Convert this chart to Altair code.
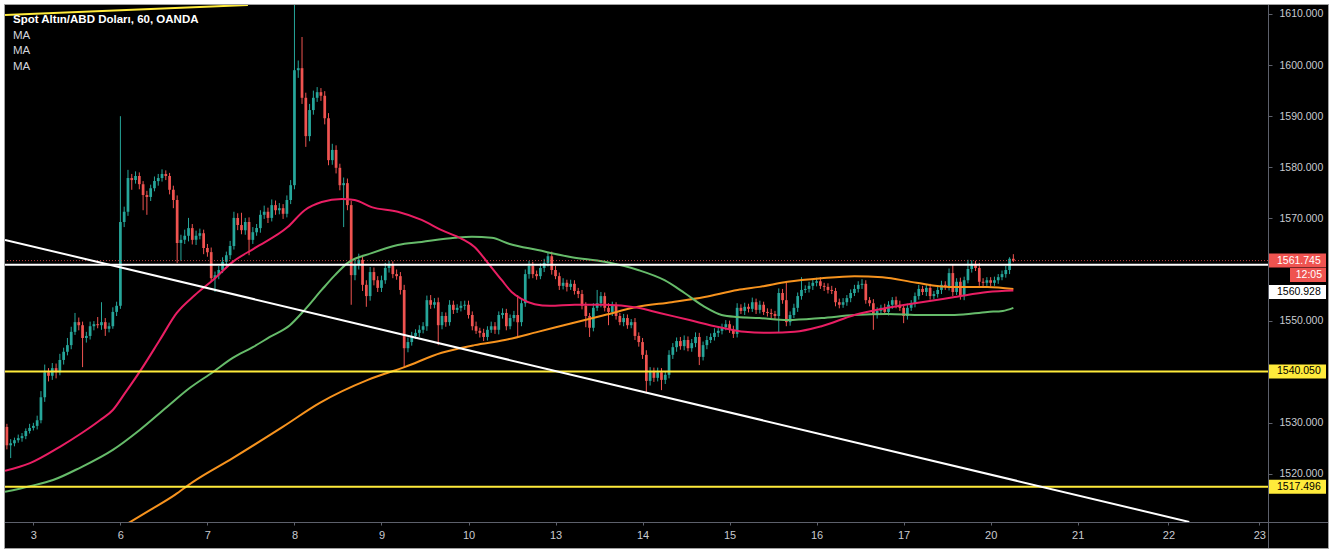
import altair as alt
import pandas as pd

# ---------------- data ----------------
FIRST_BAR = -7            # bar index of the first visible hourly candle (bar 0 = first bar of the 3rd)
first_open = 1529.2

closes = [
    # 2nd (last hours)
    1525.6, 1526.0, 1526.6, 1527.0, 1527.4, 1528.4, 1529.0,
    # 3
    1529.4, 1530.5, 1535.0, 1539.9, 1539.2, 1540.7, 1539.9, 1542.3, 1543.9, 1545.2, 1547.8, 1549.7,
    1549.1, 1546.6, 1547.0, 1548.9, 1549.3, 1549.1, 1549.7, 1548.4, 1548.9, 1551.7, 1552.9,
    # 6
    1569.3, 1571.3, 1577.9, 1577.5, 1578.3, 1576.7, 1574.6, 1574.2, 1575.9, 1577.3, 1577.9, 1578.7,
    1578.3, 1575.6, 1573.6, 1565.2, 1565.8, 1566.6, 1568.1, 1565.8, 1566.6, 1567.1, 1564.2,
    # 7
    1563.4, 1558.3, 1558.9, 1559.9, 1561.5, 1562.8, 1564.6, 1570.1, 1568.7, 1567.7, 1569.3, 1565.8,
    1567.3, 1568.1, 1570.7, 1571.3, 1570.1, 1572.6, 1571.6, 1572.0, 1570.9, 1573.6, 1576.5,
    # 8
    1599.0, 1599.4, 1593.6, 1586.1, 1591.2, 1593.6, 1594.7, 1594.0, 1589.6, 1581.4, 1583.4, 1579.9,
    1576.5, 1576.9, 1572.6, 1558.9, 1560.9, 1561.9, 1557.0, 1554.8, 1559.5, 1557.9, 1556.4,
    # 9
    1557.9, 1560.3, 1560.9, 1559.1, 1558.7, 1556.0, 1544.6, 1545.8, 1547.0, 1547.6, 1548.2, 1548.9,
    1554.0, 1553.1, 1553.6, 1549.1, 1550.9, 1549.7, 1553.1, 1552.1, 1552.5, 1552.9, 1553.1,
    # 10
    1551.1, 1548.9, 1548.0, 1547.6, 1546.8, 1548.2, 1548.9, 1548.2, 1551.1, 1551.5, 1548.9, 1550.5,
    1551.1, 1549.7, 1553.4, 1559.1, 1560.7, 1559.1, 1558.7, 1560.3, 1561.3, 1562.6, 1559.9,
    # 13
    1558.7, 1556.8, 1557.4, 1556.6, 1557.2, 1555.8, 1555.2, 1552.9, 1550.9, 1548.6, 1552.5, 1553.4,
    1554.8, 1552.5, 1551.7, 1552.9, 1550.9, 1549.7, 1550.5, 1549.1, 1549.7, 1547.0, 1545.8,
    # 14
    1543.3, 1538.2, 1540.1, 1538.8, 1539.9, 1538.4, 1539.4, 1543.3, 1544.8, 1546.0, 1545.0, 1546.2,
    1544.6, 1545.6, 1546.8, 1542.9, 1545.2, 1546.2, 1546.8, 1547.6, 1548.0, 1548.7, 1549.3,
    # 15
    1548.2, 1547.4, 1552.5, 1551.9, 1552.7, 1552.3, 1553.6, 1552.1, 1553.1, 1551.7, 1551.5, 1551.3,
    1550.9, 1555.4, 1554.0, 1549.7, 1551.1, 1552.5, 1554.8, 1556.0, 1556.2, 1556.8, 1557.4,
    # 16
    1557.7, 1556.8, 1556.6, 1556.0, 1555.8, 1553.6, 1553.1, 1553.6, 1554.4, 1555.4, 1556.2, 1557.0,
    1557.2, 1554.0, 1553.4, 1551.1, 1551.9, 1552.5, 1551.7, 1553.1, 1554.0, 1553.1, 1552.5,
    # 17
    1550.9, 1552.5, 1553.4, 1554.8, 1556.2, 1555.6, 1556.4, 1554.8, 1555.2, 1556.0, 1557.0, 1556.6,
    1559.3, 1555.6, 1557.6, 1554.8, 1557.9, 1560.1, 1561.1, 1560.3, 1557.6, 1557.4, 1557.9,
    # 20
    1557.4, 1557.9, 1558.5, 1559.1, 1559.9, 1562.1, 1561.745,
]

upper_wicks = [
    0.6, 0.8, 0.5, 0.7, 0.6, 0.5, 0.8,
    0.6, 0.9, 1.2, 1.5, 0.8, 1.0, 0.9, 1.2, 0.8, 1.4, 1.0, 1.8, 0.9, 0.7, 0.8, 0.9, 0.6, 1.4, 3.9, 0.8, 0.7, 0.9, 0.8,
    20.7, 1.0, 1.6, 0.8, 0.9, 0.7, 0.6, 0.8, 0.7, 0.9, 0.8, 0.9, 0.7, 0.6, 0.8, 0.9, 1.0, 1.2, 2.0, 0.8, 1.0, 0.9, 0.7,
    0.8, 0.9, 0.7, 0.8, 0.9, 0.7, 1.0, 1.2, 0.9, 2.4, 0.8, 0.9, 1.0, 0.8, 0.9, 1.2, 0.8, 1.1, 0.9, 1.0, 0.8, 0.9, 1.0,
    12.8, 1.5, 6.1, 1.0, 1.2, 1.4, 1.0, 0.8, 0.9, 1.0, 1.2, 0.9, 0.8, 1.1, 0.9, 0.8, 1.0, 1.2, 0.8, 0.9, 1.0, 0.9, 0.8,
    0.9, 1.0, 0.8, 0.7, 0.9, 0.8, 1.0, 0.9, 0.8, 0.7, 0.9, 0.8, 0.9, 1.0, 0.8, 0.9, 0.8, 0.7, 0.9, 0.8, 0.7, 0.9, 0.8,
    0.8, 0.7, 0.9, 0.6, 0.8, 0.7, 0.9, 0.8, 0.7, 0.9, 0.8, 0.7, 0.8, 3.9, 0.8, 0.9, 1.0, 0.8, 0.7, 0.9, 0.8, 0.8, 0.9,
    0.8, 0.7, 0.9, 0.6, 0.8, 0.7, 0.6, 0.8, 0.7, 0.6, 0.9, 2.6, 0.8, 0.7, 0.9, 0.8, 0.7, 0.6, 0.8, 0.7, 0.6, 0.8, 0.7,
    0.8, 0.9, 0.8, 0.7, 0.9, 0.8, 0.7, 0.9, 0.8, 0.7, 0.8, 0.9, 0.7, 0.8, 0.9, 0.8, 0.7, 0.8, 0.7, 0.9, 0.8, 0.7, 0.8,
    0.7, 0.8, 0.9, 0.7, 0.8, 0.6, 0.9, 0.7, 0.8, 0.6, 0.7, 0.8, 0.6, 0.9, 0.8, 3.4, 0.7, 0.8, 0.7, 2.5, 0.7, 0.8, 0.6,
    0.7, 0.8, 0.6, 0.7, 0.8, 0.6, 0.7, 0.8, 0.6, 0.7, 0.8, 0.7, 0.9, 0.7, 0.6, 0.8, 0.7, 0.6, 0.8, 0.7, 0.6, 0.7, 0.8,
    0.7, 0.8, 0.6, 0.7, 0.8, 0.6, 0.7, 0.8, 0.6, 0.7, 0.8, 0.7, 0.9, 1.6, 0.7, 0.8, 0.7, 1.8, 0.7, 0.6, 1.0, 0.7, 0.6,
    0.6, 0.7, 0.6, 0.7, 0.8, 0.3, 0.9,
]

lower_wicks = [
    0.8, 2.5, 0.6, 0.5, 0.7, 0.6, 0.5,
    0.5, 0.7, 0.6, 0.9, 1.1, 0.8, 1.2, 0.6, 0.9, 0.7, 0.8, 0.6, 1.0, 5.7, 0.9, 0.7, 0.8, 0.6, 0.9, 1.4, 0.7, 0.5, 0.8,
    0.6, 1.0, 0.8, 1.9, 0.7, 1.0, 3.0, 3.5, 0.8, 0.6, 0.9, 0.7, 0.8, 0.9, 1.6, 3.9, 3.5, 0.8, 1.1, 0.9, 1.0, 0.7, 1.2,
    0.9, 0.7, 2.7, 0.8, 0.6, 0.9, 0.8, 0.7, 1.0, 0.8, 0.9, 3.0, 0.8, 0.7, 0.9, 0.8, 1.0, 0.7, 0.9, 0.8, 1.0, 0.7, 0.8,
    0.8, 1.5, 1.2, 2.1, 1.0, 0.9, 0.8, 1.0, 1.2, 1.0, 0.9, 1.1, 1.0, 8.2, 1.0, 5.8, 1.0, 0.9, 1.2, 2.1, 0.9, 1.0, 0.8,
    0.8, 0.7, 0.9, 0.8, 0.7, 0.9, 3.7, 0.8, 0.7, 0.6, 0.8, 0.7, 0.9, 0.8, 0.7, 3.9, 0.8, 0.9, 0.7, 0.8, 0.6, 0.7, 0.8,
    0.7, 0.8, 0.6, 0.9, 0.8, 0.7, 0.6, 0.8, 0.9, 0.7, 0.8, 0.6, 0.7, 2.9, 0.8, 0.7, 0.9, 0.8, 0.7, 0.6, 0.8, 0.7, 0.9,
    0.6, 0.8, 0.7, 0.9, 0.6, 0.7, 0.8, 0.7, 2.2, 1.8, 0.7, 0.6, 0.8, 0.7, 2.6, 0.8, 0.7, 0.6, 0.8, 0.7, 0.6, 0.8, 0.9,
    0.8, 2.2, 0.9, 0.8, 0.7, 2.0, 0.8, 0.7, 0.8, 0.9, 0.7, 0.8, 0.6, 0.7, 0.8, 1.6, 0.7, 0.8, 0.6, 0.7, 0.8, 0.7, 0.6,
    0.6, 0.8, 0.7, 0.6, 0.8, 0.7, 0.6, 0.8, 0.7, 0.6, 0.7, 0.8, 0.6, 3.3, 0.7, 0.8, 0.7, 0.6, 0.8, 0.7, 0.6, 0.7, 0.8,
    0.7, 0.6, 0.8, 0.7, 0.6, 0.8, 0.7, 0.6, 0.7, 0.8, 0.6, 0.7, 0.8, 0.7, 0.6, 2.9, 0.7, 0.8, 0.6, 0.7, 0.8, 0.7, 0.6,
    1.4, 0.7, 0.6, 0.8, 0.7, 0.6, 0.8, 0.7, 0.6, 0.7, 0.8, 0.6, 0.7, 0.8, 0.6, 0.7, 0.8, 0.6, 0.7, 0.6, 0.8, 0.7, 0.6,
    0.7, 0.6, 0.7, 0.6, 0.7, 0.8, 0.3,
]

# moving averages, sampled along the curves (bar index, price)
ma_fast_i = [-7.5, -0.9, 7.0, 12.8, 17.6, 21.0, 24.2, 28.9, 33.4, 37.9, 42.7, 47.4, 52.7, 58.5, 67.2, 71.7,
             76.2, 81.5, 84.9, 89.4, 96.3, 102.6, 107.9, 113.2, 116.6, 120.1, 123.8, 126.4, 129.1, 132.5,
             136.5, 143.1, 151.0, 159.8, 165.5, 173.4, 181.4, 188.0, 194.6, 201.2, 208.3, 217.0, 225.7,
             234.7, 243.5, 252.2, 259.0]
ma_fast_p = [1520.6, 1522.1, 1525.3, 1528.0, 1530.5, 1532.5, 1535.8, 1540.9, 1546.2, 1551.5, 1555.0, 1557.9,
             1561.5, 1564.2, 1568.3, 1571.6, 1573.2, 1573.8, 1573.6, 1572.2, 1571.3, 1569.7, 1567.7, 1566.0,
             1564.4, 1561.3, 1557.9, 1555.6, 1554.2, 1553.2, 1552.9, 1553.1, 1553.1, 1552.5, 1551.5, 1550.1,
             1548.7, 1547.8, 1547.6, 1547.8, 1548.9, 1551.1, 1552.5, 1553.6, 1554.6, 1555.6, 1555.9]
ma_mid_i = [-7.5, -0.9, 5.2, 12.3, 21.0, 28.1, 35.3, 41.3, 47.4, 52.7, 58.0, 62.5, 67.8, 71.7, 76.2, 79.7,
            83.1, 89.4, 96.3, 102.6, 111.4, 115.9, 121.1, 125.9, 133.3, 142.3, 151.0, 159.8, 166.8, 172.1,
            177.4, 181.9, 186.1, 191.9, 199.3, 208.3, 217.0, 225.7, 234.7, 243.5, 252.2, 256.2, 259.0]
ma_mid_p = [1516.5, 1517.6, 1518.8, 1521.2, 1524.7, 1528.6, 1533.1, 1536.8, 1539.9, 1542.7, 1544.8, 1546.8,
            1549.1, 1552.1, 1556.0, 1558.9, 1561.3, 1563.2, 1564.8, 1565.4, 1566.2, 1566.4, 1566.2, 1565.0,
            1563.8, 1562.4, 1561.5, 1559.9, 1557.9, 1555.4, 1552.7, 1551.1, 1550.7, 1550.5, 1550.1, 1550.5,
            1551.1, 1551.3, 1551.1, 1551.1, 1551.7, 1551.9, 1552.5]
ma_slow_i = [22.9, 30.8, 37.4, 42.1, 52.7, 65.9, 75.7, 88.4, 98.1, 107.9, 116.6, 124.6, 133.3, 142.3, 151.0,
             159.8, 168.7, 177.4, 186.1, 191.9, 199.3, 208.3, 217.0, 224.4, 233.4, 242.1, 252.2, 259.0]
ma_slow_p = [1509.4, 1512.9, 1515.9, 1518.4, 1523.1, 1529.2, 1533.9, 1538.4, 1540.9, 1543.7, 1545.2, 1546.2,
             1547.8, 1549.5, 1551.1, 1552.7, 1553.6, 1554.6, 1556.0, 1556.6, 1557.6, 1558.3, 1558.7, 1558.5,
             1557.4, 1556.6, 1556.6, 1556.2]

# drawings
white_trend_i = [-7.5, 305.5]
white_trend_p = [1565.8, 1510.6]
yellow_trend_i = [-7.5, 56.7]
yellow_trend_p = [1609.8, 1611.76]
white_level = 1560.928
yellow_levels = [1540.050, 1517.496]
last_price = 1561.745
countdown = "12:05"

# axes (1540 and 1560 are hidden behind the price labels in the original)
day_ticks = [0, 23, 46, 69, 92, 115, 138, 161, 184, 207, 230, 253, 276, 300, 324]
day_labels = ["3", "6", "7", "8", "9", "10", "13", "14", "15", "16", "17", "20", "21", "22", "23"]
price_ticks = [1520, 1530, 1550, 1570, 1580, 1590, 1600, 1610]

title_text = "Spot Altın/ABD Doları, 60, OANDA"
ma_labels = ["MA", "MA", "MA"]

assert len(closes) == len(upper_wicks) == len(lower_wicks)

# ---------------- styling ----------------
W, H = 1263, 517
X0, X1 = -7.5, 326.3
Y0, Y1 = 1510.59, 1611.76
PPU = H / (Y1 - Y0)
BODY_HALF = 0.36
FONT = "Liberation Sans"
UP, DOWN = "#26a69a", "#ef5350"
C_FAST, C_MID, C_SLOW = "#e91e63", "#66bb6a", "#f7931e"
YELLOW = "#ffeb3b"
AXIS_GRAY = "#5d606b"
LABEL_GRAY = "#c9cbd1"
FRAME = "#a0a0a0"

# ---------------- tables ----------------
rows = []
opens = [first_open] + closes[:-1]
for k, (o, c, u, d) in enumerate(zip(opens, closes, upper_wicks, lower_wicks)):
    top, bot = max(o, c), min(o, c)
    rows.append({
        "i": FIRST_BAR + k, "high": top + u, "low": bot - d,
        "body_lo": bot, "body_hi": max(top, bot + 0.18),
        "dir": "up" if c >= o else "down",
    })
candles = pd.DataFrame(rows)

xs = alt.Scale(domain=[X0, X1], nice=False, zero=False)
ys = alt.Scale(domain=[Y0, Y1], nice=False, zero=False)
label_expr = " : ".join(f"datum.value == {t} ? '{l}'" for t, l in zip(day_ticks, day_labels)) + " : ''"
x_axis = alt.Axis(values=day_ticks, labelExpr=label_expr, title=None, grid=False, domain=False,
                  tickColor=AXIS_GRAY, tickSize=3, labelColor=LABEL_GRAY, labelFontSize=11,
                  labelFont=FONT, labelPadding=4, zindex=1, labelFlush=False, labelOverlap=False)
y_axis = alt.Axis(orient="right", values=price_ticks, format=".3f", title=None, grid=False, domain=False,
                  tickColor=AXIS_GRAY, tickSize=4, labelColor=LABEL_GRAY, labelFontSize=10.5,
                  labelFont=FONT, labelPadding=7, zindex=1, labelFlush=False, labelOverlap=False)


def X(f):
    return alt.X(f, type="quantitative", scale=xs, axis=x_axis)


def Y(f):
    return alt.Y(f, type="quantitative", scale=ys, axis=y_axis)


one = pd.DataFrame({"k": [0]})
bg = alt.Chart(one).mark_rect(color="black", stroke=FRAME, strokeWidth=1).encode(
    x=alt.value(-0.5), x2=alt.value(W + 60.5), y=alt.value(-0.5), y2=alt.value(H + 26.5))
sep_h = alt.Chart(one).mark_rule(color=AXIS_GRAY, strokeWidth=1).encode(
    x=alt.value(0), x2=alt.value(W + 60), y=alt.value(H + 0.5))
sep_v = alt.Chart(one).mark_rule(color=AXIS_GRAY, strokeWidth=1).encode(
    x=alt.value(W + 0.5), y=alt.value(0), y2=alt.value(H + 26))

color = alt.Color("dir:N", scale=alt.Scale(domain=["up", "down"], range=[UP, DOWN]), legend=None)
wicks = alt.Chart(candles).mark_rule(strokeWidth=1, clip=True).encode(
    x=X("i"), y=Y("low"), y2=alt.Y2("high"), color=color)
bodies = alt.Chart(candles).transform_calculate(
    xa=f"datum.i - {BODY_HALF}", xb=f"datum.i + {BODY_HALF}"
).mark_rect(clip=True).encode(x=X("xa"), x2=alt.X2("xb"), y=Y("body_lo"), y2=alt.Y2("body_hi"), color=color)


def ma_line(ii, pp, col):
    df = pd.DataFrame({"i": ii, "p": pp})
    return alt.Chart(df).mark_line(color=col, strokeWidth=2, interpolate="monotone", clip=True).encode(
        x=X("i"), y=Y("p"))


ma_slow = ma_line(ma_slow_i, ma_slow_p, C_SLOW)
ma_mid = ma_line(ma_mid_i, ma_mid_p, C_MID)
ma_fast = ma_line(ma_fast_i, ma_fast_p, C_FAST)

last_df = pd.DataFrame({"p": [last_price], "t": [f"{last_price:.3f}"], "c": [countdown]})
white_df = pd.DataFrame({"p": [white_level], "t": [f"{white_level:.3f}"]})
yellow_df = pd.DataFrame({"p": yellow_levels, "t": [f"{v:.3f}" for v in yellow_levels]})

last_line = alt.Chart(last_df).mark_rule(color=DOWN, strokeWidth=1, strokeDash=[1, 2], opacity=0.8).encode(y=Y("p"))
white_line = alt.Chart(white_df).mark_rule(color="white", strokeWidth=2).encode(y=Y("p"))
yellow_lines = alt.Chart(yellow_df).mark_rule(color=YELLOW, strokeWidth=2).encode(y=Y("p"))

wt = pd.DataFrame({"i": white_trend_i, "p": white_trend_p})
yt = pd.DataFrame({"i": yellow_trend_i, "p": yellow_trend_p})
white_trend = alt.Chart(wt).mark_line(color="white", strokeWidth=2, clip=True).encode(x=X("i"), y=Y("p"))
yellow_trend = alt.Chart(yt).mark_line(color=YELLOW, strokeWidth=2, clip=True).encode(x=X("i"), y=Y("p"))


def box(df, fill, x_from, shift=0.0):
    return alt.Chart(df).transform_calculate(
        lo=f"datum.p - {7 / PPU}", hi=f"datum.p + {7 / PPU}"
    ).mark_rect(color=fill, yOffset=shift, y2Offset=shift).encode(
        x=alt.value(x_from), x2=alt.value(W + 58), y=Y("lo"), y2=alt.Y2("hi"))


def box_text(df, col, field, x_at, align="left", shift=0.0):
    return alt.Chart(df).mark_text(align=align, baseline="middle", dy=shift, color=col,
                                   fontSize=10.5, font=FONT).encode(
        x=alt.value(x_at), y=Y("p"), text=alt.Text(f"{field}:N"))


labels = [
    box(last_df, DOWN, W + 1), box_text(last_df, "white", "t", W + 9),
    box(last_df, DOWN, W + 22, 14.5), box_text(last_df, "white", "c", W + 54, "right", 14.5),
    box(white_df, "white", W + 1, 27.2), box_text(white_df, "black", "t", W + 9, "left", 27.2),
    box(yellow_df, YELLOW, W + 1), box_text(yellow_df, "black", "t", W + 9),
]

title = alt.Chart(pd.DataFrame({"t": [title_text]})).mark_text(
    align="left", baseline="middle", fontWeight="bold", fontSize=11.5, color="white", font=FONT
).encode(x=alt.value(8), y=alt.value(15), text="t:N")
ma_texts = [
    alt.Chart(pd.DataFrame({"t": [lab]})).mark_text(
        align="left", baseline="middle", fontSize=11.5, color="#d1d4dc", font=FONT, dy=15.5 * (n + 1)
    ).encode(x=alt.value(8), y=alt.value(15), text="t:N")
    for n, lab in enumerate(ma_labels)
]

chart = alt.layer(
    bg, wicks, bodies, ma_slow, ma_mid, ma_fast,
    last_line, white_line, yellow_lines, white_trend, yellow_trend,
    sep_h, sep_v, *labels, title, *ma_texts,
).properties(
    width=W, height=H,
    padding={"left": 5, "top": 5, "right": 64, "bottom": 29},
    autosize=alt.AutoSizeParams(type="none"),
    background="white",
).configure_view(strokeWidth=0)

chart.save("out.html", embed_options={"renderer": "svg", "actions": False})
